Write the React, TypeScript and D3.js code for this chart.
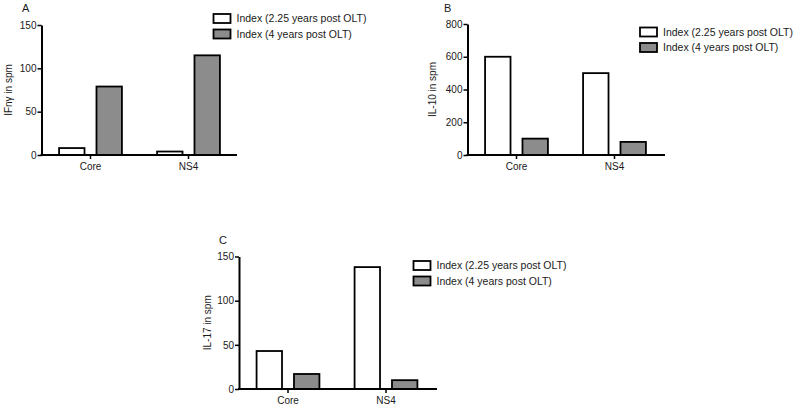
import React, { useEffect, useRef } from "react";
import * as d3 from "d3";

const categories = ["Core", "NS4"];
const seriesNames = ["Index (2.25 years post OLT)", "Index (4 years post OLT)"];
const ifnValues = [
  [8, 79],
  [4, 115],
];
const il10Values = [
  [600, 100],
  [500, 80],
];
const il17Values = [
  [43, 17],
  [138, 10],
];
const ifnTicks = [0, 50, 100, 150];
const il10Ticks = [0, 200, 400, 600, 800];
const il17Ticks = [0, 50, 100, 150];

const FONT = "'Liberation Sans', Arial, Helvetica, sans-serif";
const fills = ["#ffffff", "#8c8c8c"];

type Panel = {
  letter: string;
  ylabel: string;
  values: number[][];
  ticks: number[];
  max: number;
  x0: number;
  x1: number;
  yTop: number;
  yBottom: number;
  letterX: number;
  letterY: number;
  ylabelX: number;
  legendX: number;
  legendY: number;
};

const panels: Panel[] = [
  {
    letter: "A", ylabel: "IFnγ in spm", values: ifnValues, ticks: ifnTicks, max: 150,
    x0: 41.5, x1: 237, yTop: 25, yBottom: 155, letterX: 22, letterY: 12, ylabelX: 12,
    legendX: 213.5, legendY: 14,
  },
  {
    letter: "B", ylabel: "IL-10 in spm", values: il10Values, ticks: il10Ticks, max: 800,
    x0: 467.5, x1: 665, yTop: 24, yBottom: 155, letterX: 444, letterY: 12, ylabelX: 436,
    legendX: 640, legendY: 27.5,
  },
  {
    letter: "C", ylabel: "IL-17 in spm", values: il17Values, ticks: il17Ticks, max: 150,
    x0: 239, x1: 437, yTop: 256.5, yBottom: 389, letterX: 219, letterY: 244, ylabelX: 211,
    legendX: 413.5, legendY: 261,
  },
];

function PanelView({ p }: { p: Panel }) {
  const yRef = useRef<SVGGElement>(null);
  const xRef = useRef<SVGGElement>(null);
  const x = d3.scaleBand<string>().domain(categories).range([p.x0, p.x0 + 196]).padding(0);
  const xs = d3
    .scaleBand<number>()
    .domain([0, 1])
    .range([0, x.bandwidth()])
    .paddingInner(0.32)
    .paddingOuter(0.47);
  const y = d3.scaleLinear().domain([0, p.max]).range([p.yBottom, p.yTop]);

  useEffect(() => {
    if (yRef.current) {
      const g = d3.select(yRef.current);
      g.selectAll("*").remove();
      g.call(d3.axisLeft(y).tickValues(p.ticks).tickSize(4).tickPadding(1).tickSizeOuter(0));
      g.select(".domain").attr("stroke", "#000").attr("stroke-width", 2);
      g.selectAll(".tick line").attr("stroke", "#000").attr("stroke-width", 1.5);
      g.selectAll(".tick text").attr("font-family", FONT).attr("font-size", 10).attr("fill", "#1a1a1a");
    }
    if (xRef.current) {
      const g = d3.select(xRef.current);
      g.selectAll("*").remove();
      g.call(d3.axisBottom(x).tickSize(4).tickPadding(4).tickSizeOuter(0));
      g.select(".domain").attr("d", `M${p.x0 - 1},0H${p.x1}`).attr("stroke", "#000").attr("stroke-width", 2);
      g.selectAll(".tick line").attr("stroke", "#000").attr("stroke-width", 1.5);
      g.selectAll(".tick text").attr("font-family", FONT).attr("font-size", 10).attr("fill", "#1a1a1a");
    }
  }, []);

  return (
    <g>
      <text x={p.letterX} y={p.letterY} fontFamily={FONT} fontSize={11} fill="#1a1a1a">
        {p.letter}
      </text>
      <text
        transform={`translate(${p.ylabelX},${(p.yTop + p.yBottom) / 2}) rotate(-90)`}
        textAnchor="middle"
        fontFamily={FONT}
        fontSize={10}
        fill="#1a1a1a"
      >
        {p.ylabel}
      </text>
      {categories.map((c, ci) =>
        p.values[ci].map((v, si) => (
          <rect
            key={`${c}-${si}`}
            x={(x(c) ?? 0) + (xs(si) ?? 0)}
            y={y(v)}
            width={xs.bandwidth()}
            height={p.yBottom - y(v)}
            fill={fills[si]}
            stroke="#000"
            strokeWidth={1.8}
          />
        ))
      )}
      <g ref={yRef} transform={`translate(${p.x0},0)`} />
      <g ref={xRef} transform={`translate(0,${p.yBottom})`} />
      {seriesNames.map((s, i) => (
        <g key={s} transform={`translate(${p.legendX},${p.legendY + i * 15.5})`}>
          <rect x={0} y={0} width={17} height={9} fill={fills[i]} stroke="#000" strokeWidth={1.8} />
          <text x={23} y={4.5} dy="0.35em" fontFamily={FONT} fontSize={10.5} fill="#1a1a1a">
            {s}
          </text>
        </g>
      ))}
    </g>
  );
}

export default function App() {
  return (
    <svg width={800} height={408} style={{ position: "absolute", left: 0, top: 0, background: "#fff" }}>
      {panels.map((p) => (
        <PanelView key={p.letter} p={p} />
      ))}
    </svg>
  );
}
